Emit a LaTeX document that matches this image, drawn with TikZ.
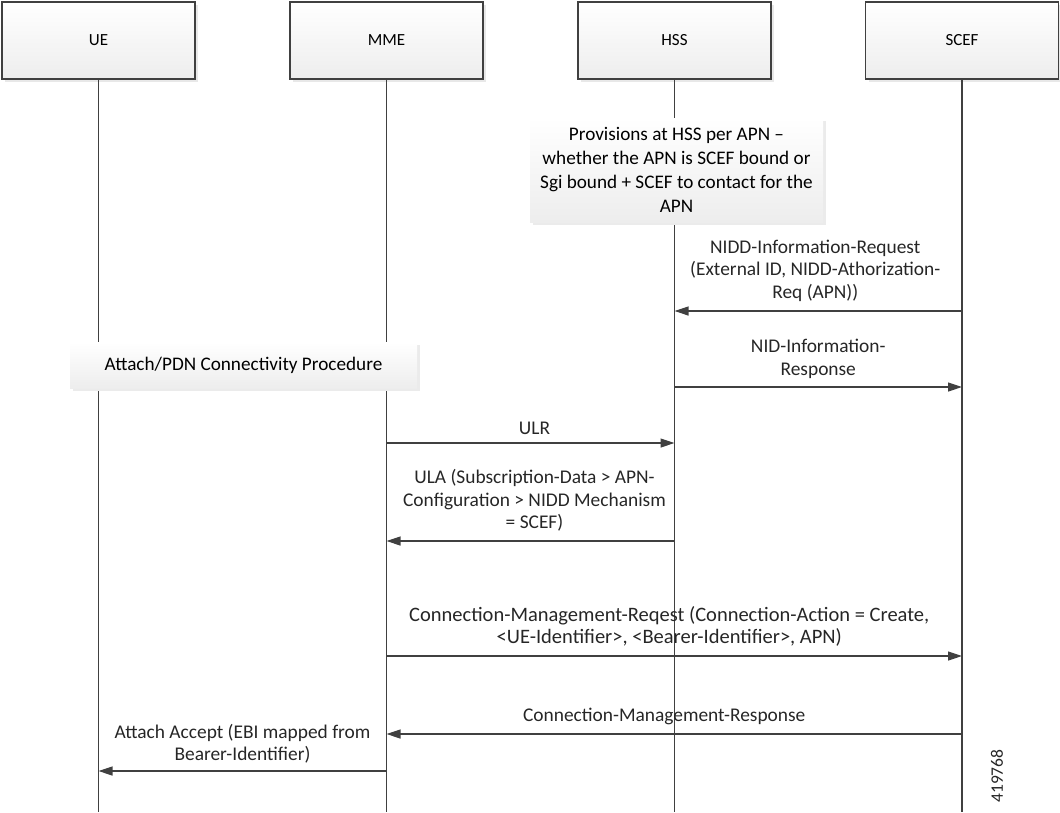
\documentclass[tikz,border=0pt]{standalone}
\usepackage{fontspec}
\setmainfont{Carlito}
\usetikzlibrary{arrows.meta,shadows}
\definecolor{ln}{HTML}{404040}
\tikzset{
  head/.style={draw=ln, line width=1.2pt, minimum width=193pt, minimum height=77pt,
    top color=white, bottom color=black!7, drop shadow={shadow xshift=3pt, shadow yshift=-3pt, fill=black!9, opacity=1},
    font=\fontsize{17}{20}\selectfont},
  life/.style={ln, line width=1.1pt},
  msg/.style={ln, line width=1.2pt, -{Triangle[length=14pt,width=9pt]}},
  note/.style={top color=white, bottom color=black!7, drop shadow={shadow xshift=3pt, shadow yshift=-3pt, fill=black!8, opacity=1},
    align=center, font=\fontsize{19.2}{24}\selectfont},
  lbl/.style={align=center, font=\fontsize{19.4}{22.5}\selectfont, text=black!85, inner sep=0pt}
}
\begin{document}
\begin{tikzpicture}[x=1pt,y=-1pt]
  \useasboundingbox (0,0) rectangle (1060,812);
  \node[head] (ue) at (98.5,40.5) {UE};
  \node[head] (mme) at (386.5,40.5) {MME};
  \node[head] (hss) at (674.5,40.5) {HSS};
  \node[head] (scef) at (962,40.5) {SCEF};
  \foreach \n in {ue,mme,hss,scef}{
    \coordinate (\n-end) at (\n.south |- 0,812);
    \draw[life] (\n.south) -- (\n-end);
  }
  \node[note, minimum width=293pt, minimum height=104pt] (prov) at (676.5,170)
    {Provisions at HSS per APN --\\ whether the APN is SCEF bound or\\ Sgi bound + SCEF to contact for the\\ APN};
  \node[note, minimum width=347pt, minimum height=46pt] (attach) at (243.5,365) {Attach/PDN Connectivity Procedure};
  \draw[msg] (scef |- 0,311) -- (hss |- 0,311)
    node[lbl, midway, above=9pt, xshift=-3pt] {NIDD-Information-Request\\ (External ID, NIDD-Athorization-\\ Req (APN))};
  \draw[msg] (hss |- 0,387) -- (scef |- 0,387)
    node[lbl, midway, above=8pt] {NID-Information-\\ Response};
  \draw[msg] (mme |- 0,443) -- (hss |- 0,443)
    node[lbl, midway, above=8pt, xshift=4pt] {ULR};
  \draw[msg] (hss |- 0,541) -- (mme |- 0,541)
    node[lbl, midway, above=9pt, xshift=4pt] {ULA (Subscription-Data > APN-\\ Configuration > NIDD Mechanism\\ = SCEF)};
  \draw[msg] (mme |- 0,656) -- (scef |- 0,656)
    node[lbl, midway, above=9pt, xshift=-5pt, font=\fontsize{20.5}{22.5}\selectfont] {Connection-Management-Reqest (Connection-Action = Create,\\ <UE-Identifier>, <Bearer-Identifier>, APN)};
  \draw[msg] (scef |- 0,734) -- (mme |- 0,734)
    node[lbl, midway, above=9pt, xshift=-10pt] {Connection-Management-Response};
  \draw[msg] (mme |- 0,771) -- (ue |- 0,771)
    node[lbl, midway, above=7pt] {Attach Accept (EBI mapped from\\ Bearer-Identifier)};
  \node[rotate=90, font=\fontsize{17.5}{20}\selectfont, text=black!85] (id) at (997,776) {419768};
\end{tikzpicture}
\end{document}
